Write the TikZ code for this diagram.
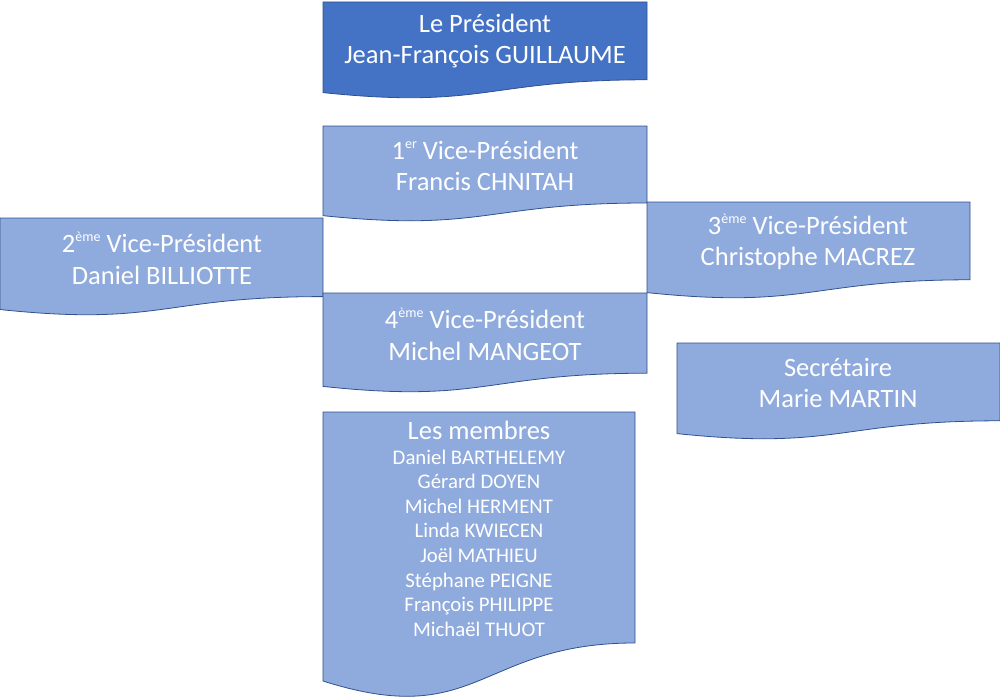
\documentclass[tikz,border=0pt]{standalone}
\usepackage{fontspec}
\setmainfont{Carlito}
\usepackage{xcolor}
\usepackage{tikz}

\definecolor{fonce}{HTML}{4472C4}
\definecolor{clair}{HTML}{8FAADC}
\definecolor{bord}{HTML}{2F528F}

% document shape: style, left, top, right, height
\newcommand{\docshape}[5]{%
  \path[#1] (#2,#3) -- (#4,#3) -- (#4,{#3+0.802*#5})
    .. controls ({(#2+#4)/2},{#3+0.802*#5}) and ({(#2+#4)/2},{#3+1.107*#5}) .. (#2,{#3+0.934*#5}) -- cycle;}
\newcommand{\expo}[1]{\raisebox{0.42em}{\fontsize{14}{14}\selectfont #1}}

\tikzset{
  boite/.style={fill=clair,draw=bord,line width=0.8pt},
  chef/.style={fill=fonce,draw=bord,line width=0.8pt},
  titre/.style={text=white,align=center,font=\fontsize{26.5}{31.5}\selectfont},
  noms/.style={text=white,align=center,font=\fontsize{20.8}{24.6}\selectfont}
}

\begin{document}
\begin{tikzpicture}[x=1pt,y=-1pt]
       \useasboundingbox (0,0) rectangle (1000,698);

       \docshape{chef}{323}{2}{647}{97}
       \docshape{boite}{323}{126}{647}{96}
       \docshape{boite}{0}{218}{323}{98}
       \docshape{boite}{647}{202}{970}{97}
       \docshape{boite}{323}{293}{647}{100}
       \docshape{boite}{677}{343}{1000}{97}
       \docshape{boite}{323}{412}{635}{288}

       \node[titre] (president) at (485,41) {Le Président\\Jean-François GUILLAUME};
       \node[titre] (vp1) at (485,166) {1\expo{er} Vice-Président\\Francis CHNITAH};
       \node[titre] (vp2) at (162,258) {2\expo{ème} Vice-Président\\Daniel BILLIOTTE};
       \node[titre] (vp3) at (808,242) {3\expo{ème} Vice-Président\\Christophe MACREZ};
       \node[titre] (vp4) at (485,334) {4\expo{ème} Vice-Président\\Michel MANGEOT};
       \node[titre] (secretaire) at (838,383) {Secrétaire\\Marie MARTIN};

       \node[titre] (membres) at (479,430) {Les membres};
       \node[noms] (liste) at (479,543) {Daniel BARTHELEMY\\Gérard DOYEN\\Michel HERMENT\\Linda KWIECEN\\Joël MATHIEU\\Stéphane PEIGNE\\François PHILIPPE\\Michaël THUOT};
   \end{tikzpicture}
\end{document}
